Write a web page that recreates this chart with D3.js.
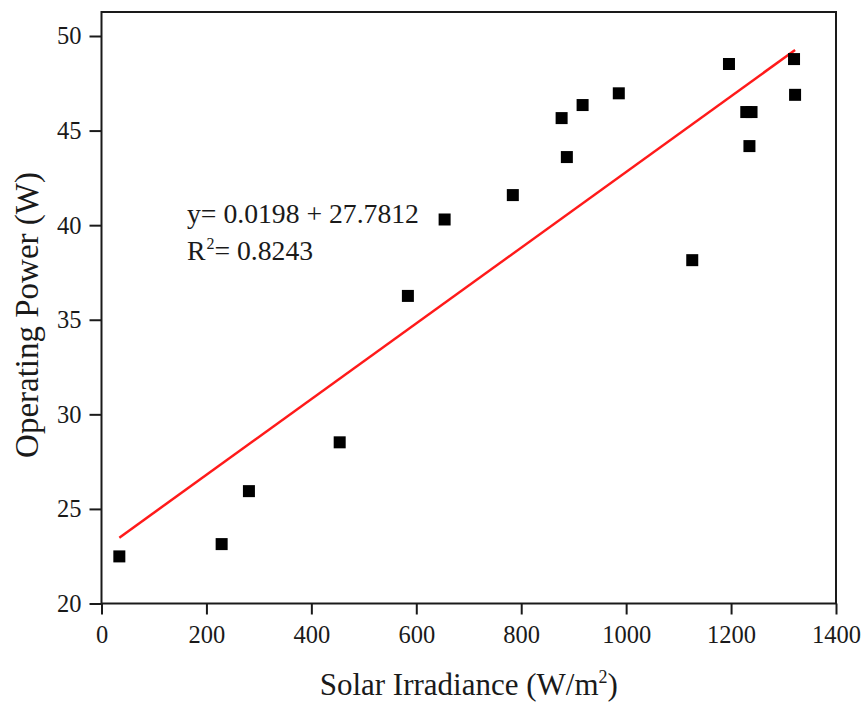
<!DOCTYPE html>
<html>
<head>
<meta charset="utf-8">
<script src="https://cdn.jsdelivr.net/npm/d3@7"></script>
<style>
  html, body { margin: 0; padding: 0; background: #fff; }
  svg { display: block; }
  text { font-family: "Liberation Serif", "Times New Roman", serif; fill: #1a1a1a; }
</style>
</head>
<body>
<svg id="chart" width="861" height="704"></svg>
<script>
// ---- data ----
const irradiance = [34, 229, 281, 454, 584, 654, 784, 877, 887, 917, 986, 1126, 1196, 1229, 1239, 1235, 1320, 1322];
const power      = [22.49, 23.14, 25.94, 28.52, 36.26, 40.30, 41.59, 45.66, 43.60, 46.35, 46.97, 38.15, 48.52, 45.98, 45.98, 44.18, 48.78, 46.89];
const fitX = [34, 1322];
const fitY = [23.48, 49.26];
const xTicks = [0, 200, 400, 600, 800, 1000, 1200, 1400];
const yTicks = [20, 25, 30, 35, 40, 45, 50];
const equationLine = "y= 0.0198 + 27.7812";
const r2Value = "0.8243";

// ---- layout ----
const svg = d3.select("#chart");
const mLeft = 101.5, mRight = 836, mTop = 12, y50 = 36, mBottom = 603.5;

const x = d3.scaleLinear().domain([0, 1400]).range([mLeft, mRight]);
const y = d3.scaleLinear().domain([20, 50]).range([mBottom, y50]);

// frame
svg.append("rect")
  .attr("x", mLeft).attr("y", mTop)
  .attr("width", mRight - mLeft).attr("height", mBottom - mTop)
  .attr("fill", "none").attr("stroke", "#1a1a1a").attr("stroke-width", 2);

// x axis
const xAxis = svg.append("g")
  .attr("transform", `translate(0,${mBottom})`)
  .call(d3.axisBottom(x).tickValues(xTicks).tickSize(11).tickPadding(11).tickFormat(d3.format("d")));
xAxis.select(".domain").remove();
xAxis.selectAll("line").attr("stroke", "#1a1a1a").attr("stroke-width", 2);
xAxis.selectAll("text").style("font-size", "24.5px").attr("fill", "#1a1a1a")
  .style("font-family", '"Liberation Serif", serif');

// y axis
const yAxis = svg.append("g")
  .attr("transform", `translate(${mLeft},0)`)
  .call(d3.axisLeft(y).tickValues(yTicks).tickSize(12).tickPadding(8).tickFormat(d3.format("d")));
yAxis.select(".domain").remove();
yAxis.selectAll("line").attr("stroke", "#1a1a1a").attr("stroke-width", 2);
yAxis.selectAll("text").style("font-size", "24.5px").attr("fill", "#1a1a1a")
  .style("font-family", '"Liberation Serif", serif');

// fit line
const fitData = fitX.map((v, i) => [v, fitY[i]]);
svg.append("path")
  .datum(fitData)
  .attr("d", d3.line().x(d => x(d[0])).y(d => y(d[1])))
  .attr("stroke", "#ff1a1a").attr("stroke-width", 2.5).attr("fill", "none");

// points
const pts = irradiance.map((v, i) => ({ x: v, y: power[i] }));
const s = 12;
svg.append("g").selectAll("rect")
  .data(pts).join("rect")
  .attr("x", d => x(d.x) - s / 2)
  .attr("y", d => y(d.y) - s / 2)
  .attr("width", s).attr("height", s)
  .attr("fill", "#000");

// equation text
svg.append("text")
  .attr("x", 187).attr("y", 223)
  .style("font-size", "27.7px")
  .text(equationLine);
const r2 = svg.append("text")
  .attr("x", 187).attr("y", 260)
  .style("font-size", "27.7px");
r2.append("tspan").text("R");
r2.append("tspan").attr("dy", -11).attr("dx", 1).style("font-size", "16px").text("2");
r2.append("tspan").attr("dy", 11).text("= " + r2Value);

// x axis title
const xt = svg.append("text")
  .attr("x", (mLeft + mRight) / 2).attr("y", 695)
  .attr("text-anchor", "middle")
  .style("font-size", "31px");
xt.append("tspan").text("Solar Irradiance (W/m");
xt.append("tspan").attr("dy", -12).style("font-size", "18px").text("2");
xt.append("tspan").attr("dy", 12).text(")");

// y axis title
svg.append("text")
  .attr("transform", `translate(38,315) rotate(-90)`)
  .attr("text-anchor", "middle")
  .style("font-size", "33px")
  .text("Operating Power (W)");
</script>
</body>
</html>
